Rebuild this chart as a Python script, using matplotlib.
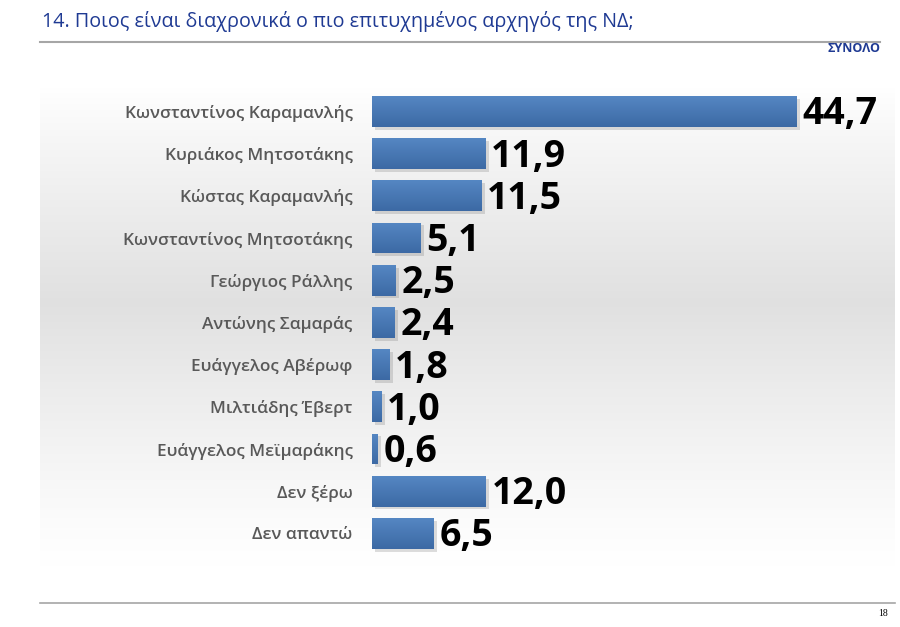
import matplotlib
matplotlib.use("Agg")
import matplotlib.pyplot as plt
import matplotlib.patheffects as pe
from matplotlib.lines import Line2D
import numpy as np

categories = ["Κωνσταντίνος Καραμανλής", "Κυριάκος Μητσοτάκης", "Κώστας Καραμανλής",
              "Κωνσταντίνος Μητσοτάκης", "Γεώργιος Ράλλης", "Αντώνης Σαμαράς",
              "Ευάγγελος Αβέρωφ", "Μιλτιάδης Έβερτ", "Ευάγγελος Μεϊμαράκης",
              "Δεν ξέρω", "Δεν απαντώ"]
values = [44.7, 11.9, 11.5, 5.1, 2.5, 2.4, 1.8, 1.0, 0.6, 12.0, 6.5]
value_labels = ["44,7", "11,9", "11,5", "5,1", "2,5", "2,4", "1,8", "1,0", "0,6", "12,0", "6,5"]

W, H = 900, 627
fig = plt.figure(figsize=(9, 6.27), dpi=100)
fig.patch.set_facecolor("white")

def fx(px):
    return px / W

def fy(py):
    return 1 - py / H

# Background gradient panel
bg = fig.add_axes([fx(40), fy(567), fx(895) - fx(40), fy(87) - fy(567)], zorder=0)
t = np.linspace(0, 1, 256)
peak = 0.45
g = np.where(t < peak, 1 - 0.12 * (t / peak) ** 0.9, 1 - 0.12 * (1 - (t - peak) / (1 - peak)) ** 1.2)
g = np.clip(g, 0, 1)
img = np.repeat(g[:, None], 4, axis=1)
bg.imshow(np.dstack([img, img, img]), aspect="auto", extent=(0, 1, 0, 1), interpolation="bilinear")
bg.set_axis_off()

# Main axes
top_px, bot_px = 90.4, 554.5
ax = fig.add_axes([fx(372), fy(bot_px), fx(847) - fx(372), fy(top_px) - fy(bot_px)], zorder=2)
ax.patch.set_alpha(0)
y = np.arange(len(categories))
bars = ax.barh(y, values, height=0.73, color="#4a7bb8", zorder=3,
               path_effects=[pe.SimplePatchShadow(offset=(2.5, -2), shadow_rgbFace="#666666", alpha=0.22), pe.Normal()])

# gradient overlay on bars
grad = np.linspace(0, 1, 64)[:, None]
c_top = np.array([0x55, 0x87, 0xc3]) / 255
c_bot = np.array([0x3c, 0x69, 0xa4]) / 255
gimg = c_top[None, None, :] * (1 - grad[:, :, None]) + c_bot[None, None, :] * grad[:, :, None]
gimg = np.repeat(gimg, 2, axis=1)
for b in bars:
    x0, y0, w, h = b.get_x(), b.get_y(), b.get_width(), b.get_height()
    im = ax.imshow(gimg, extent=(x0, x0 + w, y0 + h, y0), aspect="auto", zorder=4, interpolation="bilinear")
    im.set_clip_path(b)

ax.set_xlim(0, 50)
ax.set_ylim(len(categories) - 0.5, -0.5)

for b, lab in zip(bars, value_labels):
    ax.text(b.get_width() + 0.6, b.get_y() + b.get_height() / 2 + 0.07, lab,
            ha="left", va="center", fontsize=27, fontweight="bold", family="Open Sans",
            color="black", zorder=5)

ax.set_yticks(y)
ax.set_yticklabels(categories, fontsize=12.4, color="#595959", family="Open Sans", fontweight="semibold")
ax.tick_params(axis="y", length=0, pad=14)
ax.set_xticks([])
for s in ax.spines.values():
    s.set_visible(False)

# Title
fig.text(fx(42), fy(22), "14. Ποιος είναι διαχρονικά ο πιο επιτυχημένος αρχηγός της ΝΔ;",
         ha="left", va="center", fontsize=14.2, color="#1f3a93", family="Open Sans")
fig.add_artist(Line2D([fx(40), fx(880)], [fy(42), fy(42)], color="#a6a6a6", lw=1.5))
fig.text(fx(881), fy(48), "ΣΥΝΟΛΟ", ha="right", va="center", fontsize=9,
         fontweight="bold", color="#1f3a93", family="Open Sans")
fig.add_artist(Line2D([fx(40), fx(895)], [fy(603), fy(603)], color="#a6a6a6", lw=1.2))
fig.text(fx(888), fy(614), "18", ha="right", va="center", fontsize=7, color="black",
         family="Liberation Serif")

fig.savefig("out.png", dpi=100)
